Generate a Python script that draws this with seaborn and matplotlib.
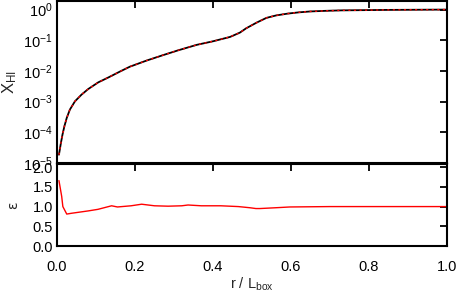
import numpy as np
import pandas as pd
import matplotlib
matplotlib.use("Agg")
import matplotlib.pyplot as plt
import seaborn as sns

# X_HI profile (log10 values)
r_x = [0.005, 0.010, 0.014, 0.019, 0.025, 0.033, 0.046, 0.063, 0.080, 0.106,
       0.132, 0.166, 0.187, 0.20, 0.23, 0.273, 0.31, 0.358, 0.401, 0.444,
       0.469, 0.485, 0.511, 0.537, 0.562, 0.592, 0.62, 0.65, 0.69, 0.73,
       0.85, 1.0]
log_xhi = [-4.73, -4.35, -4.08, -3.80, -3.53, -3.26, -2.99, -2.77, -2.59, -2.37,
           -2.21, -1.99, -1.86, -1.80, -1.66, -1.48, -1.33, -1.15, -1.03, -0.89,
           -0.75, -0.61, -0.43, -0.27, -0.19, -0.13, -0.09, -0.06, -0.04, -0.025,
           -0.01, 0.0]

# relative error epsilon
r_e = [0.005, 0.012, 0.015, 0.025, 0.037, 0.08, 0.105, 0.14, 0.155, 0.19,
       0.217, 0.25, 0.285, 0.32, 0.336, 0.37, 0.42, 0.465, 0.495, 0.51,
       0.52, 0.56, 0.597, 0.7, 0.8, 1.0]
eps = [1.66, 1.26, 1.00, 0.81, 0.83, 0.89, 0.93, 1.02, 0.99, 1.02,
       1.06, 1.02, 1.01, 1.02, 1.04, 1.02, 1.02, 1.00, 0.97, 0.95,
       0.95, 0.97, 0.99, 1.0, 1.0, 1.0]

xticks = [0.0, 0.2, 0.4, 0.6, 0.8, 1.0]
eticks = [0.0, 0.5, 1.0, 1.5, 2.0]

sns.set_style("white")
plt.rcParams['font.family'] = ['Liberation Sans', 'DejaVu Sans']
plt.rcParams['mathtext.fontset'] = 'custom'
plt.rcParams['mathtext.rm'] = 'Liberation Sans'
plt.rcParams['mathtext.it'] = 'Liberation Sans:italic'
plt.rcParams['mathtext.default'] = 'regular'

W, H = 458, 298
fig = plt.figure(figsize=(W / 100, H / 100), dpi=100)
ax1 = fig.add_axes([57 / W, 1 - 163 / H, 390 / W, 162 / H])
ax2 = fig.add_axes([57 / W, 1 - 246 / H, 390 / W, 82 / H])

dfx = pd.DataFrame({"r": r_x, "xhi": 10 ** np.array(log_xhi)})
dfe = pd.DataFrame({"r": r_e, "eps": eps})

sns.lineplot(data=dfx, x="r", y="xhi", ax=ax1, color="black", lw=1.3)
sns.lineplot(data=dfx, x="r", y="xhi", ax=ax1, color="red", lw=1.0,
             linestyle=(0, (1.5, 2.5)))
ax1.set_yscale("log")
ax1.set_ylim(1e-5, 10 ** 0.28)
ax1.set_xlim(0, 1)
ax1.set_yticks([1e-5, 1e-4, 1e-3, 1e-2, 1e-1, 1e0])
ax1.set_yticklabels([r"$10^{-5}$", r"$10^{-4}$", r"$10^{-3}$", r"$10^{-2}$",
                     r"$10^{-1}$", r"$10^{0}$"])
ax1.minorticks_off()
ax1.set_xticks(xticks)
ax1.set_xticklabels([])
ax1.set_xlabel("")
ax1.set_ylabel(r"$X_{HI}$", fontsize=12, labelpad=3)

sns.lineplot(data=dfe, x="r", y="eps", ax=ax2, color="red", lw=1.0)
ax2.set_xlim(0, 1)
ax2.set_ylim(0, 2.08)
ax2.set_yticks(eticks)
ax2.set_yticklabels([f"{v:.1f}" for v in eticks])
ax2.set_xticks(xticks)
ax2.set_xticklabels([f"{v:.1f}" for v in xticks])
ax2.set_xlabel(r"r / $L_{box}$", fontsize=10.5, labelpad=1)
ax2.set_ylabel("ε", fontsize=10, labelpad=9, family=['DejaVu Sans'])

for ax in (ax1, ax2):
    for s in ax.spines.values():
        s.set_visible(True)
        s.set_linewidth(1.5)
        s.set_color("black")
    ax.tick_params(direction="in", length=5, width=1.3, top=True, right=True,
                   labelsize=10.5, colors="black", pad=3)
ax2.tick_params(axis="x", pad=10)

fig.savefig("out.png", dpi=100)
